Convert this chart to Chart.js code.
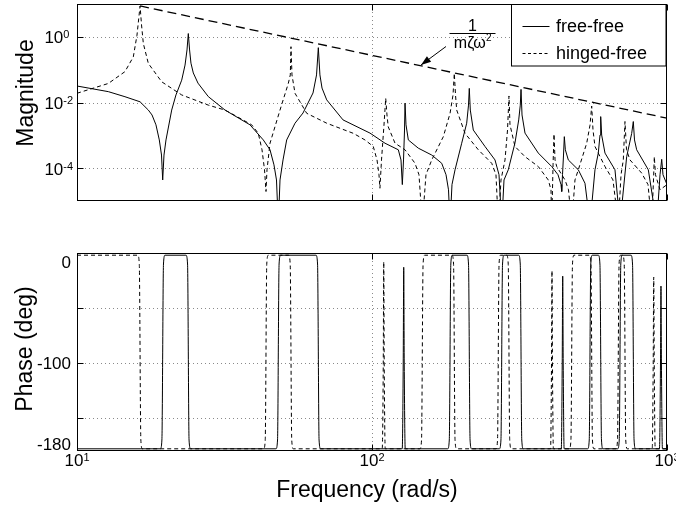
<!DOCTYPE html>
<html>
<head>
<meta charset="utf-8">
<script src="https://cdn.jsdelivr.net/npm/chart.js@4/dist/chart.umd.min.js"></script>
<style>
html,body{margin:0;padding:0;background:#fff;}
#wrap{position:relative;width:676px;height:508px;background:#fff;}
canvas{position:absolute;left:0;}
#c1{top:0;}
#c2{top:230px;}
</style>
</head>
<body>
<div id="wrap">
<canvas id="c1" width="676" height="230"></canvas>
<canvas id="c2" width="676" height="278"></canvas>
</div>
<script>
// ---------------- data ----------------
const seriesNames = ['free-free', 'hinged-free'];

const freeMagFreq = [10,12.77,14.54,16.36,17.45,17.96,18.52,19.01,19.34,19.52,19.72,20.03,20.94,21.65,22.64,23.24,23.60,23.84,24.08,24.34,24.79,25.71,27.87,31.75,38.58,42.81,45.11,46.53,47.45,48.13,48.77,49.93,51.38,54.83,58.37,63.10,64.86,65.77,66.6,67.7,70.23,79.77,98.45,110.7,122.8,125.4,126.7,127.9,128.9,129.4,130.4,132.8,143.5,159.4,172.3,178.2,181.7,183.9,186.7,191.2,201.4,209.4,212.4,213.7,215.4,220.5,241.6,261.2,269.5,275.3,280.2,289.7,305.3,314.3,318.2,320.0,322.5,330.1,366.2,406.6,427.1,437.2,439.7,442.4,445.9,448.7,452.3,462.9,500.4,527.2,548.3,570.0,584.9,592.8,596.0,600.5,616.3,666.3,693.0,730.0,759.1,768.7,776,789.3,864.3,922.9,947,959.6,969.2,1000];
const freeMag = [3.18e-2,2.14e-2,1.50e-2,1.05e-2,5.89e-3,4.17e-3,2.09e-3,7.24e-4,2.51e-4,4.37e-5,2.51e-4,7.24e-4,5.89e-3,1.70e-2,4.79e-2,1.38e-1,3.98e-1,1.26,3.98e-1,1.58e-1,7.94e-2,3.89e-2,1.51e-2,5.89e-3,2.09e-3,7.24e-4,3.63e-4,1.26e-4,4.37e-5,2e-6,4.37e-5,1.78e-4,7.24e-4,2.34e-3,4.79e-3,1.95e-2,6.92e-2,4.68e-1,6.92e-2,2.75e-2,1.20e-2,2.95e-3,1.17e-3,5.75e-4,3.63e-4,1.78e-4,3.16e-5,1.78e-4,1.45e-3,9.55e-3,2.09e-3,7.24e-4,4.07e-4,2.51e-4,1.41e-4,6.31e-5,2.19e-5,2e-6,3.16e-5,8.91e-5,5.75e-4,2.34e-3,8.32e-3,2.69e-2,5.89e-3,1.45e-3,4.57e-4,1.78e-4,6.31e-5,2e-6,4.37e-5,8.91e-5,5.89e-4,2.95e-3,8.32e-3,2.51e-2,4.17e-3,1.17e-3,2.88e-4,1.12e-4,6.31e-5,3.16e-5,1.95e-5,6.31e-5,2.51e-4,9.12e-4,3.63e-4,1.78e-4,8.91e-5,3.47e-5,2e-6,8.91e-5,2.88e-4,1.02e-3,3.72e-3,1.02e-3,2.88e-4,8.91e-5,2e-6,2.24e-4,1.15e-3,2.63e-3,7.24e-4,3.63e-4,8.91e-5,2e-6,6.31e-5,1.86e-4,6.31e-5,3.16e-5];

const hingedMagFreq = [10,12.77,14.54,15.52,15.97,16.36,16.55,16.78,17.45,19.37,22.64,27.87,31.75,35.69,39.1,41.17,42.38,43.22,43.72,44.06,45.11,48.77,52.03,52.85,53.13,53.55,54.83,60.08,70.23,86.43,94.68,101.0,104.0,105.6,106.4,107.7,109.8,111.3,112.4,113.5,119.7,129.4,139.9,144.3,148.1,152.4,159.4,174.5,183.9,188.2,190.1,191.9,193.7,206.7,229.3,254.6,263.2,268.0,273.7,282.4,288.0,291.3,293.6,305.3,330.1,366.2,395.9,404.4,406.6,410.9,414.0,417.3,422.8,451.1,463.6,475.3,487.6,500.4,534.3,548.3,555.5,561.3,570.0,616.3,656,683.8,698.5,711.0,720.4,729,749.1,820.7,862.3,887.5,900,905.7,914,947,1000];
const hingedMag = [1.91e-2,3.80e-2,8.71e-2,2.45e-1,1.12,8.71,2.29,6.31e-1,1.55e-1,4.27e-2,1.70e-2,8.32e-3,5.89e-3,3.31e-3,2.09e-3,1.15e-3,3.63e-4,8.91e-5,1.95e-5,8.91e-5,5.75e-4,5.89e-3,3.80e-2,6.92e-2,5.01e-1,6.92e-2,1.91e-2,4.68e-3,2.34e-3,1.15e-3,7.24e-4,4.57e-4,1.78e-4,6.31e-5,2.45e-5,1.78e-4,2.04e-3,1.35e-2,4.17e-3,1.82e-3,5.75e-4,3.63e-4,1.41e-4,6.31e-5,2e-6,6.31e-5,1.78e-4,9.12e-4,4.68e-3,1.70e-2,7.76e-2,1.70e-2,5.89e-3,1.15e-3,3.63e-4,1.41e-4,6.31e-5,2e-6,4.37e-5,1.78e-4,1.45e-3,1.58e-2,2.09e-3,4.57e-4,2.24e-4,1.12e-4,4.37e-5,2.19e-5,2e-6,1.26e-4,1.10e-3,1.78e-4,1.12e-4,4.37e-5,2.19e-5,2e-6,4.37e-5,8.91e-5,5.75e-4,2.04e-3,7.76e-3,1.45e-3,4.57e-4,1.12e-4,4.37e-5,2e-6,6.31e-5,1.78e-4,2.63e-3,3.63e-4,1.78e-4,7.08e-5,3.16e-5,2e-6,4.37e-5,2.24e-4,6.31e-5,2.19e-5,3.16e-5];

// envelope 1/(m zeta w^2)
const envFreq = [16.36, 1000];
const envMag = [8.71, 3.33e-3];

const freePhaseFreq = [10, 19.17,19.40,19.64,19.87, 23.41,23.70,23.98,24.27, 47.26,47.84,48.42,49.00, 64.59,65.38,66.16,66.95, 126.6,127.6,128.1,128.6,129.6, 180.6,182.8,185.0,187.2, 209.9,212.4,215.0,217.5, 270.3,273.6,277.0,280.3, 314.2,318.1,321.9,325.8, 438.2,441.4,443.1,444.8,448.0, 538.4,545.0,551.6,558.2, 585.3,592.4,599.6,606.7, 680.5,688.8,697.2,705.5, 754.9,764.1,773.3,782.5, 943,950.5,954,957.5,965, 1000];
const freePhase = [-178, -178,-170,-10,-2, -2,-10,-170,-178, -178,-170,-10,-2, -2,-10,-170,-178, -178,-100,-13,-100,-178, -178,-170,-10,-2, -2,-10,-170,-178, -178,-170,-10,-2, -2,-10,-170,-178, -178,-100,-21,-100,-178, -178,-170,-10,-2, -2,-10,-170,-178, -178,-170,-10,-2, -2,-10,-170,-178, -178,-100,-30,-100,-178, -178];

const hingedPhaseFreq = [10, 16.07,16.26,16.46,16.65, 42.93,43.46,43.98,44.51, 52.17,52.81,53.45,54.09, 108.3,109.2,109.6,110.0,110.9, 145.4,147.2,149.0,150.8, 186.7,189.0,191.2,193.5, 263.2,266.4,269.6,272.8, 286.1,289.6,293.0,296.5, 403.0,406.0,407.5,409.0,412.0, 466.7,472.4,478.2,483.9, 545.5,552.2,558.8,565.5, 671.5,679.7,687.9,696.1, 707.4,716.1,724.7,733.4, 891,898,901.6,905.2,912, 1000];
const hingedPhase = [-2, -2,-10,-170,-178, -178,-170,-10,-2, -2,-10,-170,-178, -178,-100,-8,-100,-178, -178,-170,-10,-2, -2,-10,-170,-178, -178,-170,-10,-2, -2,-10,-170,-178, -178,-100,-16,-100,-178, -178,-170,-10,-2, -2,-10,-170,-178, -178,-170,-10,-2, -2,-10,-170,-178, -178,-100,-22,-100,-178, -178];

// axes / ticks
const freqTicks = [10, 100, 1000];
const freqTickExp = ['1', '2', '3'];
const magTicks = [1, 1e-2, 1e-4];
const magTickExp = ['0', '-2', '-4'];
const phaseGrid = [-50, -100, -150];
const phaseLabels = [0, -100, -180];

// ---------------- drawing helpers ----------------
const FONT = "'Liberation Sans', Arial, Helvetica, sans-serif";
Chart.defaults.font.family = FONT;

function pts(xs, ys) { return xs.map((x, i) => ({ x: x, y: ys[i] })); }

function dottedGrid(chart, xVals, yVals) {
  const { ctx, chartArea: a, scales } = chart;
  ctx.save();
  ctx.strokeStyle = '#8a8a8a';
  ctx.lineWidth = 1;
  ctx.setLineDash([1, 3]);
  ctx.beginPath();
  yVals.forEach(v => {
    const y = Math.round(scales.y.getPixelForValue(v)) + 0.5;
    ctx.moveTo(a.left, y); ctx.lineTo(a.right, y);
  });
  xVals.forEach(v => {
    const x = Math.round(scales.x.getPixelForValue(v)) + 0.5;
    ctx.moveTo(x, a.top); ctx.lineTo(x, a.bottom);
  });
  ctx.stroke();
  ctx.restore();
}

function frame(chart, xVals, yVals) {
  const { ctx, chartArea: a, scales } = chart;
  const L = Math.round(a.left) + 0.5, R = Math.round(a.right) - 0.5;
  const T = Math.round(a.top) + 0.5, B = Math.round(a.bottom) - 0.5;
  ctx.save();
  ctx.strokeStyle = '#000';
  ctx.lineWidth = 1;
  ctx.setLineDash([]);
  ctx.strokeRect(L, T, R - L, B - T);
  ctx.beginPath();
  yVals.forEach(v => {
    const y = Math.round(scales.y.getPixelForValue(v)) + 0.5;
    ctx.moveTo(L, y); ctx.lineTo(L + 6, y);
    ctx.moveTo(R, y); ctx.lineTo(R - 6, y);
  });
  xVals.forEach(v => {
    const x = Math.round(scales.x.getPixelForValue(v)) + 0.5;
    ctx.moveTo(x, T); ctx.lineTo(x, T + 6);
    ctx.moveTo(x, B); ctx.lineTo(x, B - 6);
  });
  ctx.stroke();
  ctx.restore();
}

function vTitle(ctx, text, x, y) {
  ctx.save();
  ctx.translate(x, y);
  ctx.rotate(-Math.PI / 2);
  ctx.font = '23px ' + FONT;
  ctx.fillStyle = '#000';
  ctx.textAlign = 'center';
  ctx.textBaseline = 'alphabetic';
  ctx.fillText(text, 0, 0);
  ctx.restore();
}

const topPlugin = {
  id: 'topDecor',
  beforeDatasetsDraw(chart) {
    dottedGrid(chart, [100], magTicks);
  },
  afterDraw(chart) {
    const { ctx, chartArea: a, scales } = chart;
    frame(chart, freqTicks, magTicks);
    ctx.save();
    ctx.fillStyle = '#000';
    magTicks.forEach((v, i) => {
      const y = scales.y.getPixelForValue(v);
      ctx.font = '17px ' + FONT;
      ctx.textAlign = 'right';
      ctx.textBaseline = 'alphabetic';
      ctx.fillText('10', a.left - 13.7, y + 6.6);
      ctx.font = '11px ' + FONT;
      ctx.textAlign = 'left';
      ctx.fillText(magTickExp[i], a.left - 13.7, y + 1.6);
    });
    ctx.restore();
    vTitle(ctx, 'Magnitude', 33, 93);

    // legend
    ctx.save();
    ctx.fillStyle = '#fff';
    ctx.fillRect(512, 5, 154, 61);
    ctx.strokeStyle = '#000';
    ctx.lineWidth = 1;
    ctx.strokeRect(511.5, 4.5, 154.5, 61.5);
    ctx.beginPath();
    ctx.moveTo(522.5, 26.5); ctx.lineTo(549.5, 26.5);
    ctx.stroke();
    ctx.setLineDash([3, 2.5]);
    ctx.beginPath();
    ctx.moveTo(522.5, 53.5); ctx.lineTo(549.5, 53.5);
    ctx.stroke();
    ctx.setLineDash([]);
    ctx.fillStyle = '#000';
    ctx.font = '18px ' + FONT;
    ctx.textAlign = 'left';
    ctx.textBaseline = 'middle';
    ctx.fillText(seriesNames[0], 556, 27);
    ctx.fillText(seriesNames[1], 556, 54);
    ctx.restore();

    // annotation 1/(m zeta omega^2)
    ctx.save();
    ctx.fillStyle = '#000';
    ctx.strokeStyle = '#000';
    ctx.textBaseline = 'alphabetic';
    ctx.textAlign = 'center';
    ctx.font = '16px ' + FONT;
    ctx.fillText('1', 472.5, 31);
    ctx.lineWidth = 1;
    ctx.beginPath();
    ctx.moveTo(449.5, 33.5); ctx.lineTo(495.5, 33.5);
    ctx.stroke();
    ctx.font = '16px ' + FONT;
    const t = 'm\u03B6\u03C9';
    const w = ctx.measureText(t).width;
    ctx.font = '10px ' + FONT;
    const w2 = ctx.measureText('2').width;
    const x0 = 472.5 - (w + w2) / 2;
    ctx.textAlign = 'left';
    ctx.font = '16px ' + FONT;
    ctx.fillText(t, x0, 47.5);
    ctx.font = '10px ' + FONT;
    ctx.fillText('2', x0 + w + 0.5, 41);
    const ax0 = 446, ay0 = 46.5, ax1 = 421, ay1 = 65;
    ctx.lineWidth = 1;
    ctx.beginPath();
    ctx.moveTo(ax0, ay0); ctx.lineTo(ax1, ay1);
    ctx.stroke();
    const dx = ax1 - ax0, dy = ay1 - ay0, len = Math.hypot(dx, dy);
    const ux = dx / len, uy = dy / len;
    const hl = 10, hw = 3.5;
    ctx.beginPath();
    ctx.moveTo(ax1, ay1);
    ctx.lineTo(ax1 - ux * hl - uy * hw, ay1 - uy * hl + ux * hw);
    ctx.lineTo(ax1 - ux * hl + uy * hw, ay1 - uy * hl - ux * hw);
    ctx.closePath();
    ctx.fill();
    ctx.restore();
  }
};

const bottomPlugin = {
  id: 'bottomDecor',
  beforeDatasetsDraw(chart) {
    dottedGrid(chart, [100], phaseGrid);
  },
  afterDraw(chart) {
    const { ctx, chartArea: a, scales } = chart;
    frame(chart, freqTicks, phaseGrid);
    ctx.save();
    ctx.fillStyle = '#000';
    const nudge = { '0': 15, '-100': 6, '-180': -0.6 };
    ctx.font = '17px ' + FONT;
    ctx.textAlign = 'right';
    ctx.textBaseline = 'alphabetic';
    phaseLabels.forEach(v => {
      const y = scales.y.getPixelForValue(v);
      ctx.fillText(String(v), a.left - 6, y + nudge[String(v)]);
    });
    freqTicks.forEach((v, i) => {
      const x = scales.x.getPixelForValue(v);
      ctx.font = '17px ' + FONT;
      const wb = ctx.measureText('10').width;
      ctx.font = '11px ' + FONT;
      const we = ctx.measureText(freqTickExp[i]).width;
      const x0 = x - (wb + we) / 2;
      ctx.textAlign = 'left';
      ctx.font = '17px ' + FONT;
      ctx.fillText('10', x0, a.bottom + 15.4);
      ctx.font = '11px ' + FONT;
      ctx.fillText(freqTickExp[i], x0 + wb, a.bottom + 9.7);
    });
    ctx.font = '23px ' + FONT;
    ctx.textAlign = 'center';
    ctx.fillText('Frequency (rad/s)', 367, 267);
    ctx.restore();
    vTitle(ctx, 'Phase (deg)', 32, 119);
  }
};

const common = {
  responsive: false,
  animation: false,
  devicePixelRatio: 1,
  events: [],
  plugins: { legend: { display: false }, tooltip: { enabled: false } },
  elements: { point: { radius: 0, hoverRadius: 0 }, line: { borderWidth: 1, tension: 0 } }
};

new Chart(document.getElementById('c1'), {
  type: 'line',
  data: {
    datasets: [
      { label: seriesNames[0], data: pts(freeMagFreq, freeMag), borderColor: '#000', borderWidth: 1, fill: false },
      { label: seriesNames[1], data: pts(hingedMagFreq, hingedMag), borderColor: '#000', borderWidth: 1, borderDash: [4, 3], fill: false },
      { label: '1/(m\u03B6\u03C9\u00B2)', data: pts(envFreq, envMag), borderColor: '#000', borderWidth: 1.3, borderDash: [9, 5], fill: false }
    ]
  },
  options: Object.assign({}, common, {
    layout: { padding: { left: 77, right: 9, top: 4, bottom: 29 } },
    scales: {
      x: { type: 'logarithmic', min: 10, max: 1000, display: false },
      y: { type: 'logarithmic', min: 1e-5, max: 10, display: false }
    }
  }),
  plugins: [topPlugin]
});

new Chart(document.getElementById('c2'), {
  type: 'line',
  data: {
    datasets: [
      { label: seriesNames[0], data: pts(freePhaseFreq, freePhase), borderColor: '#000', borderWidth: 1, cubicInterpolationMode: 'monotone', fill: false },
      { label: seriesNames[1], data: pts(hingedPhaseFreq, hingedPhase), borderColor: '#000', borderWidth: 1, borderDash: [4, 3], cubicInterpolationMode: 'monotone', fill: false }
    ]
  },
  options: Object.assign({}, common, {
    layout: { padding: { left: 77, right: 9, top: 23, bottom: 57 } },
    scales: {
      x: { type: 'logarithmic', min: 10, max: 1000, display: false },
      y: { type: 'linear', min: -180, max: 0, display: false }
    }
  }),
  plugins: [bottomPlugin]
});
</script>
</body>
</html>
